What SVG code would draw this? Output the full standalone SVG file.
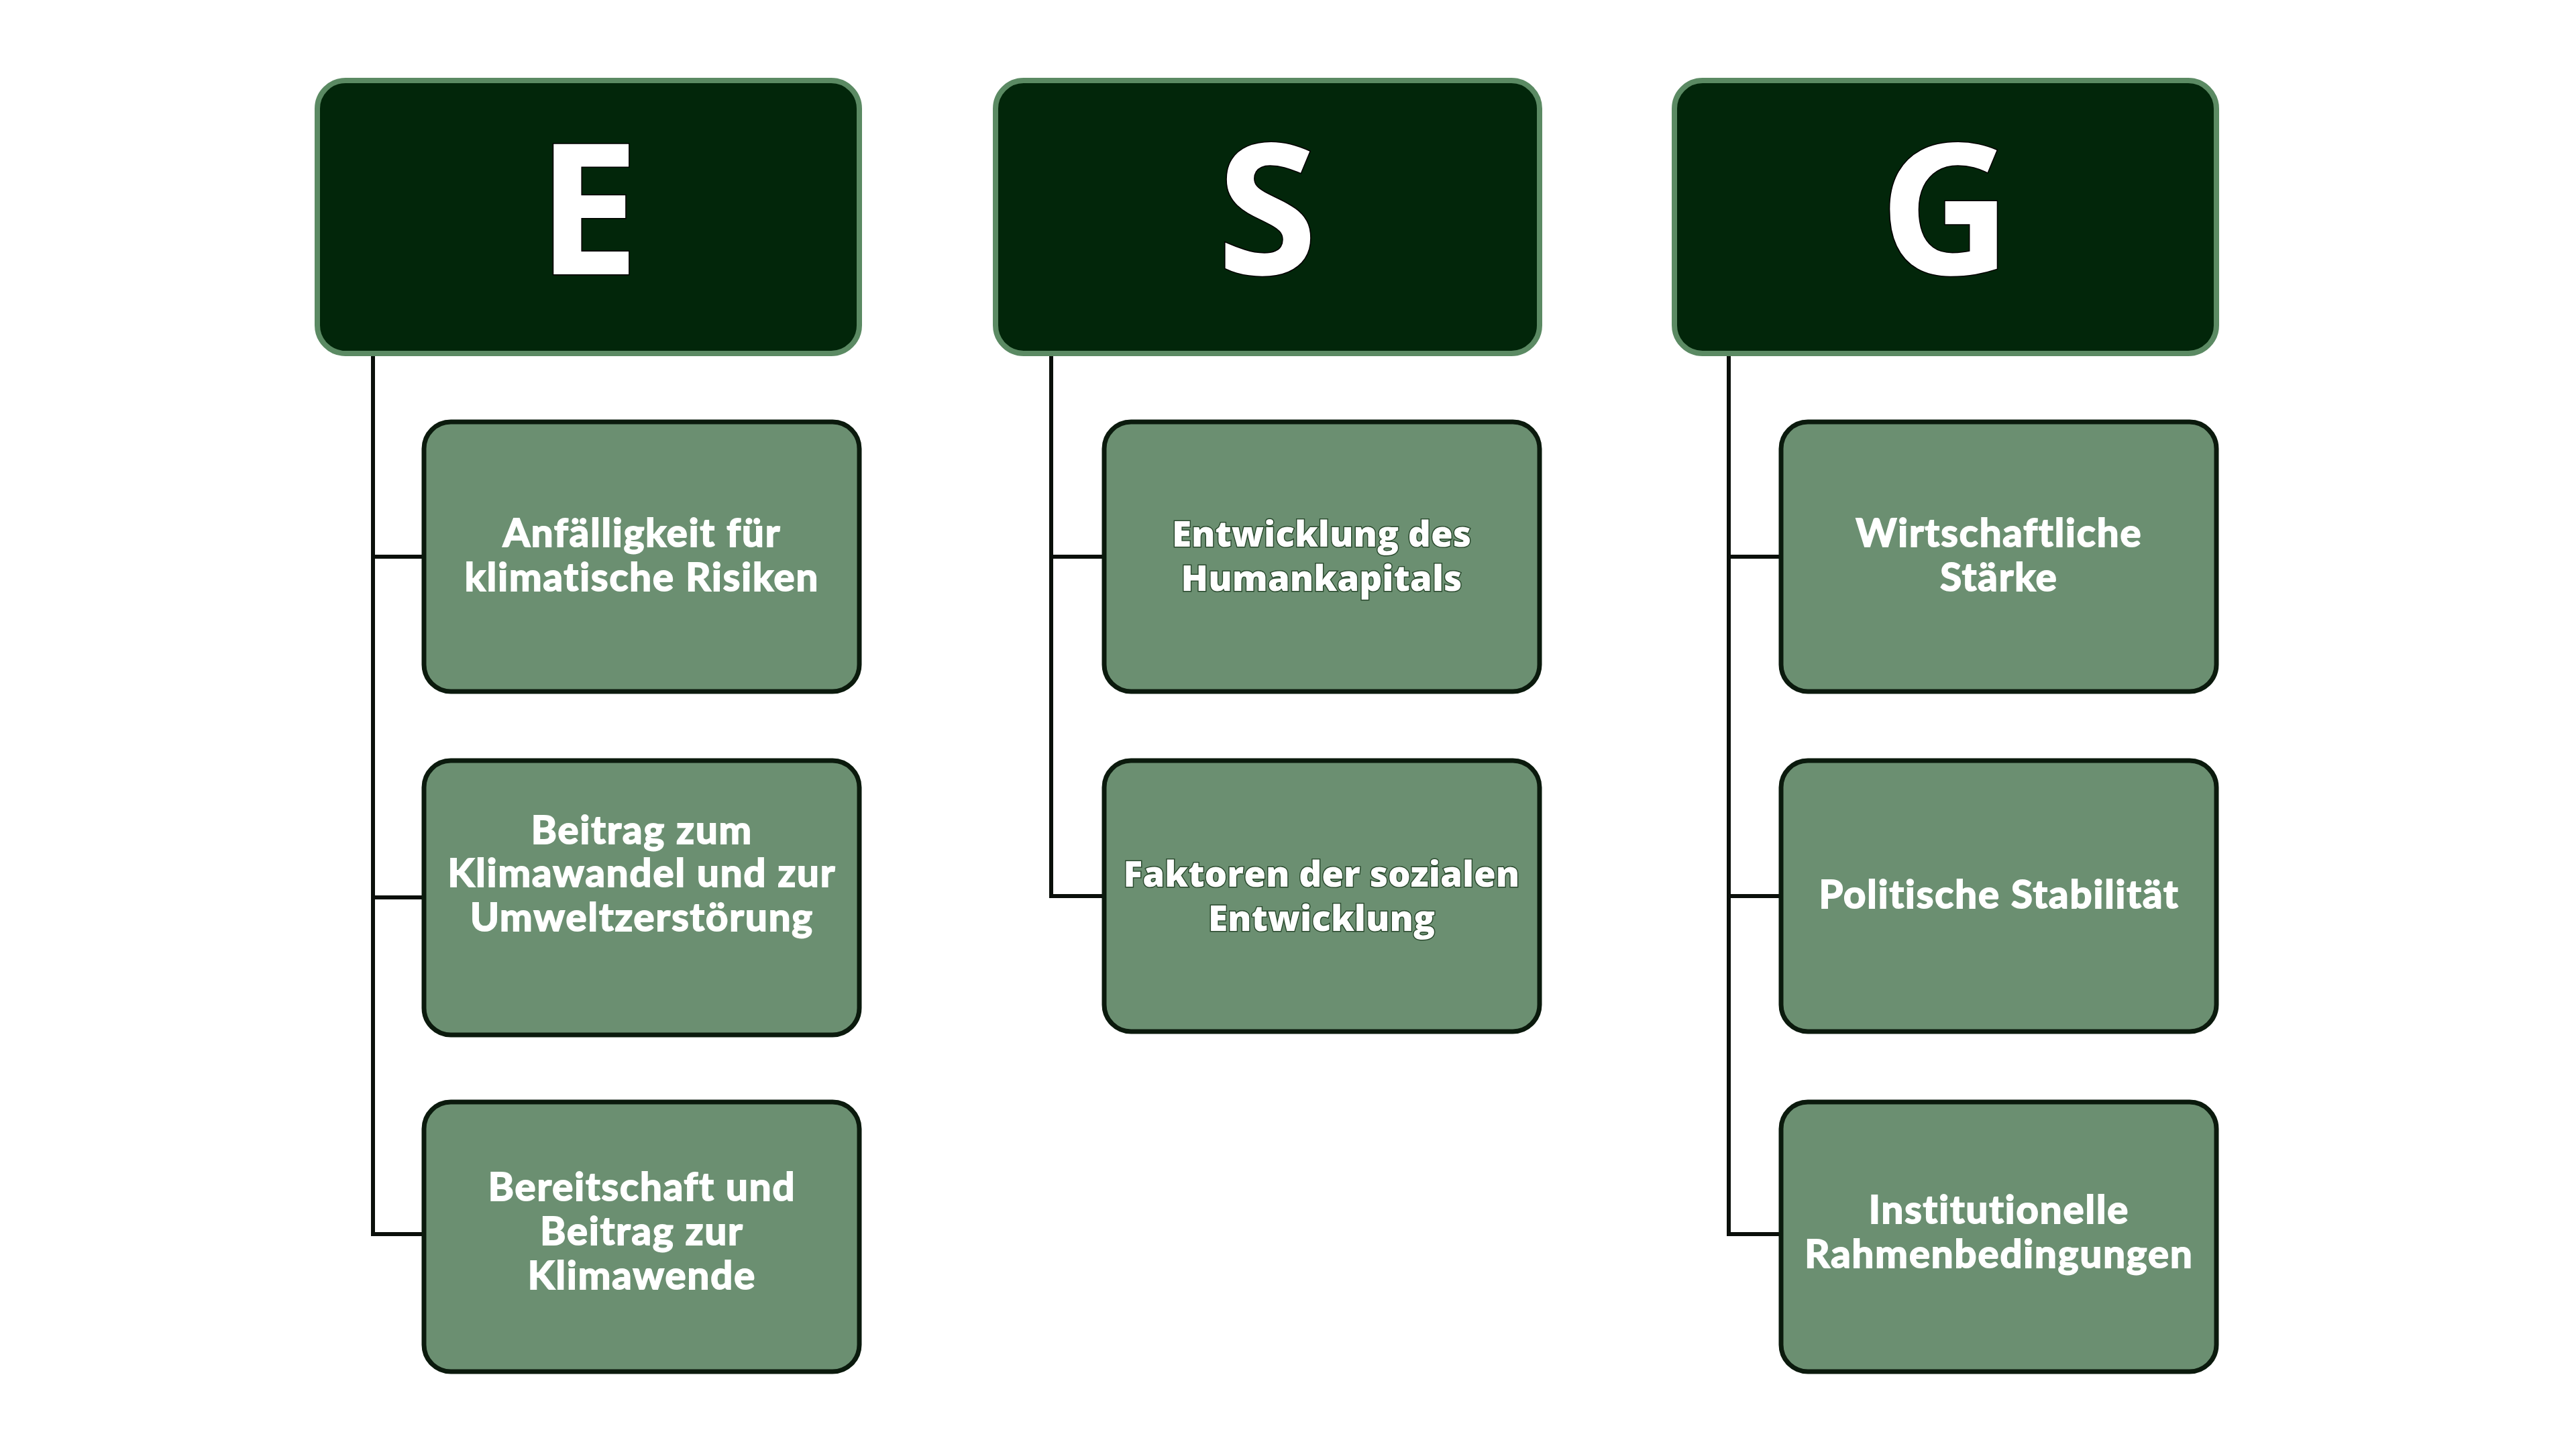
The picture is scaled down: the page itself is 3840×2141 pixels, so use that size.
<svg xmlns="http://www.w3.org/2000/svg" width="3840" height="2141" viewBox="0 0 3840 2141">
<style>
.hdr{fill:#02260a;stroke:#5b8a63;stroke-width:8}
.box{fill:#6b8f71;stroke:#0b1a0d;stroke-width:7}
.ht{font-family:"Open Sans",sans-serif;font-weight:700;font-size:272px;fill:#ffffff;text-anchor:middle;stroke:#000;stroke-width:3;paint-order:stroke}
.ta{font-family:Lato,"Liberation Sans Narrow",sans-serif;font-weight:700;font-size:58px;letter-spacing:2px;fill:#ffffff;text-anchor:middle;stroke:#ffffff;stroke-width:2}
.tb{font-family:"Open Sans",sans-serif;font-weight:800;font-size:53px;fill:#ffffff;text-anchor:middle;stroke:#2a4a2e;stroke-width:3;paint-order:stroke}
.con{fill:none;stroke:#0a0f0a;stroke-width:6;stroke-linejoin:miter}
</style>
<rect width="3840" height="2141" fill="#ffffff"/>
<g id="connectors">
<path class="con" d="M556 527 V1840 H632 M556 830 H632 M556 1338 H632"/>
<path class="con" d="M1567 527 V1336 H1646 M1567 830 H1646"/>
<path class="con" d="M2577 527 V1840 H2655 M2577 830 H2655 M2577 1336 H2655"/>
</g>
<g id="E">
<rect class="hdr" x="473" y="120" width="808" height="407" rx="42"/>
<text class="ht" x="877" y="409">E</text>
</g>
<g id="S">
<rect class="hdr" x="1484" y="120" width="811" height="407" rx="42"/>
<text class="ht" x="1889" y="409">S</text>
</g>
<g id="G">
<rect class="hdr" x="2496" y="120" width="808" height="407" rx="42"/>
<text class="ht" x="2900" y="409">G</text>
</g>
<g id="E1">
<rect class="box" x="632" y="629" width="649" height="402" rx="40"/>
<text class="ta" x="957" y="815">Anfälligkeit für</text>
<text class="ta" x="957" y="881">klimatische Risiken</text>
</g>
<g id="E2">
<rect class="box" x="632" y="1134" width="649" height="409" rx="40"/>
<text class="ta" x="957" y="1258">Beitrag zum</text>
<text class="ta" x="957" y="1322">Klimawandel und zur</text>
<text class="ta" x="957" y="1388">Umweltzerstörung</text>
</g>
<g id="E3">
<rect class="box" x="632" y="1643" width="649" height="402" rx="40"/>
<text class="ta" x="957" y="1790">Bereitschaft und</text>
<text class="ta" x="957" y="1856">Beitrag zur</text>
<text class="ta" x="957" y="1922">Klimawende</text>
</g>
<g id="S1">
<rect class="box" x="1646" y="629" width="649" height="402" rx="40"/>
<text class="tb" x="1970" y="815">Entwicklung des</text>
<text class="tb" x="1970" y="881">Humankapitals</text>
</g>
<g id="S2">
<rect class="box" x="1646" y="1134" width="649" height="404" rx="40"/>
<text class="tb" x="1970" y="1322">Faktoren der sozialen</text>
<text class="tb" x="1970" y="1388">Entwicklung</text>
</g>
<g id="G1">
<rect class="box" x="2655" y="629" width="649" height="402" rx="40"/>
<text class="ta" x="2980" y="815">Wirtschaftliche</text>
<text class="ta" x="2980" y="881">Stärke</text>
</g>
<g id="G2">
<rect class="box" x="2655" y="1134" width="649" height="404" rx="40"/>
<text class="ta" x="2980" y="1354">Politische Stabilität</text>
</g>
<g id="G3">
<rect class="box" x="2655" y="1643" width="649" height="402" rx="40"/>
<text class="ta" x="2980" y="1824">Institutionelle</text>
<text class="ta" x="2980" y="1890">Rahmenbedingungen</text>
</g>
</svg>
